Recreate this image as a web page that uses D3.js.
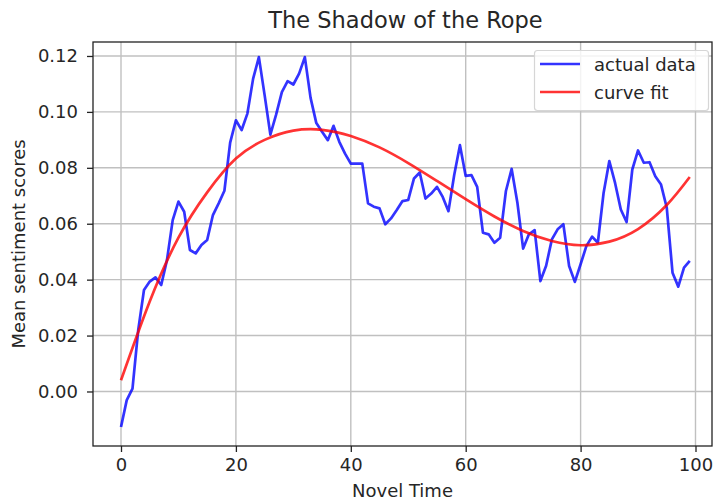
<!DOCTYPE html>
<html>
<head>
<meta charset="utf-8">
<script src="https://cdn.jsdelivr.net/npm/d3@7"></script>
<style>
  html, body { margin: 0; padding: 0; background: #fff; }
  svg { display: block; font-family: "DejaVu Sans", sans-serif; }
</style>
</head>
<body>
<svg id="chart" width="714" height="504"></svg>
<script>
// Mean sentiment per slice of the novel (slices 0..99)
const sentiment = [
  -0.0127, -0.0031, 0.0010, 0.0220, 0.0363, 0.0393, 0.0408, 0.0381, 0.0470, 0.0613,
  0.0679, 0.0643, 0.0506, 0.0494, 0.0524, 0.0542, 0.0631, 0.0673, 0.0718, 0.0890,
  0.0970, 0.0935, 0.0994, 0.1119, 0.1196, 0.1060, 0.0919, 0.0990, 0.1071, 0.1110,
  0.1098, 0.1137, 0.1196, 0.1050, 0.0960, 0.0929, 0.0899, 0.0950, 0.0893, 0.0851,
  0.0815, 0.0815, 0.0815, 0.0673, 0.0661, 0.0655, 0.0598, 0.0619, 0.0649, 0.0681,
  0.0685, 0.0762, 0.0783, 0.0690, 0.0708, 0.0732, 0.0696, 0.0645, 0.0774, 0.0881,
  0.0771, 0.0774, 0.0732, 0.0568, 0.0562, 0.0532, 0.0550, 0.0717, 0.0796, 0.0675,
  0.0511, 0.0562, 0.0577, 0.0395, 0.0450, 0.0544, 0.0580, 0.0598, 0.0449, 0.0392,
  0.0455, 0.0520, 0.0554, 0.0532, 0.0710, 0.0824, 0.0746, 0.0651, 0.0606, 0.0794,
  0.0862, 0.0818, 0.0820, 0.0770, 0.0740, 0.0657, 0.0425, 0.0375, 0.0443, 0.0467
];

// Smooth fitted trend, sampled along novel time
const fitTime   = [0, 5, 10, 15, 20, 25, 30, 35, 40, 45, 50, 55, 60, 65, 70, 75, 80, 85, 90, 95, 99];
const fitValues = [0.0040, 0.0322, 0.0550, 0.0712, 0.0833, 0.0900, 0.0933, 0.0936, 0.0914, 0.0873,
                   0.0817, 0.0753, 0.0688, 0.0626, 0.0574, 0.0538, 0.0523, 0.0536, 0.0581, 0.0667, 0.0767];

const xTicks = [0, 20, 40, 60, 80, 100];
const yTicks = [0.00, 0.02, 0.04, 0.06, 0.08, 0.10, 0.12];

const titleText = "The Shadow of the Rope";
const xLabel = "Novel Time";
const yLabel = "Mean sentiment scores";
const seriesNames = ["actual data", "curve fit"];
const seriesColors = ["#0000ff", "#ff0000"];

// Plot frame
const frame = { left: 93, right: 712, top: 42, bottom: 446 };

const svg = d3.select("#chart");

const x = d3.scaleLinear().domain([0, 100]).range([121, 695.5]);
const y = d3.scaleLinear().domain([-0.0195, 0.125]).range([frame.bottom, frame.top]);

// Grid
const grid = svg.append("g").attr("stroke", "#c0c0c0").attr("stroke-width", 1.4);
grid.selectAll("line.gx").data(xTicks).join("line")
  .attr("x1", d => x(d)).attr("x2", d => x(d))
  .attr("y1", frame.top).attr("y2", frame.bottom);
grid.selectAll("line.gy").data(yTicks).join("line")
  .attr("x1", frame.left).attr("x2", frame.right)
  .attr("y1", d => y(d)).attr("y2", d => y(d));

// Clip to plot area
svg.append("clipPath").attr("id", "plotClip").append("rect")
  .attr("x", frame.left).attr("y", frame.top)
  .attr("width", frame.right - frame.left).attr("height", frame.bottom - frame.top);

const plot = svg.append("g").attr("clip-path", "url(#plotClip)");

const dataLine = d3.line()
  .x((d, i) => x(i))
  .y(d => y(d));

plot.append("path")
  .datum(sentiment)
  .attr("fill", "none")
  .attr("stroke", seriesColors[0])
  .attr("stroke-opacity", 0.8)
  .attr("stroke-width", 2.7)
  .attr("stroke-linejoin", "round")
  .attr("d", dataLine);

const fitLine = d3.line()
  .x((d, i) => x(fitTime[i]))
  .y(d => y(d))
  .curve(d3.curveNatural);

plot.append("path")
  .datum(fitValues)
  .attr("fill", "none")
  .attr("stroke", seriesColors[1])
  .attr("stroke-opacity", 0.8)
  .attr("stroke-width", 2.7)
  .attr("d", fitLine);

// Axes
const fontSize = 18;
const xAxis = svg.append("g")
  .attr("transform", `translate(0,${frame.bottom})`)
  .call(d3.axisBottom(x).tickValues(xTicks).tickFormat(d3.format("d")).tickSize(6).tickPadding(6));
const yAxis = svg.append("g")
  .attr("transform", `translate(${frame.left},0)`)
  .call(d3.axisLeft(y).tickValues(yTicks).tickFormat(d3.format(".2f")).tickSize(6).tickPadding(9));

[xAxis, yAxis].forEach(ax => {
  ax.select(".domain").remove();
  ax.selectAll(".tick line").attr("stroke", "#222").attr("stroke-width", 1.3);
  ax.selectAll(".tick text")
    .attr("fill", "#262626")
    .style("font-family", "'DejaVu Sans', sans-serif")
    .style("font-size", fontSize + "px");
});

// Frame
svg.append("rect")
  .attr("x", frame.left).attr("y", frame.top)
  .attr("width", frame.right - frame.left).attr("height", frame.bottom - frame.top)
  .attr("fill", "none").attr("stroke", "#222").attr("stroke-width", 1.3);

// Title and axis labels
svg.append("text")
  .attr("x", (frame.left + frame.right) / 2 + 3).attr("y", 28)
  .attr("text-anchor", "middle")
  .attr("fill", "#262626")
  .style("font-size", "22.5px")
  .text(titleText);

svg.append("text")
  .attr("x", (frame.left + frame.right) / 2).attr("y", 497)
  .attr("text-anchor", "middle")
  .attr("fill", "#262626")
  .style("font-size", fontSize + "px")
  .text(xLabel);

svg.append("text")
  .attr("transform", `translate(24.5,${(frame.top + frame.bottom) / 2}) rotate(-90)`)
  .attr("text-anchor", "middle")
  .attr("fill", "#262626")
  .style("font-size", fontSize + "px")
  .text(yLabel);

// Legend
const legend = svg.append("g");
legend.append("rect")
  .attr("x", 534.5).attr("y", 50.5).attr("width", 174).attr("height", 60).attr("rx", 3)
  .attr("fill", "#fff").attr("fill-opacity", 0.8)
  .attr("stroke", "#d6d6d6").attr("stroke-width", 1.2);

const entries = legend.selectAll("g.entry").data(seriesNames).join("g")
  .attr("transform", (d, i) => `translate(0,${64 + i * 28})`);
entries.append("line")
  .attr("x1", 540).attr("x2", 580).attr("y1", 0).attr("y2", 0)
  .attr("stroke", (d, i) => seriesColors[i])
  .attr("stroke-opacity", 0.8)
  .attr("stroke-width", 2.7);
entries.append("text")
  .attr("x", 594).attr("y", 7.3)
  .attr("fill", "#262626")
  .style("font-size", fontSize + "px")
  .text(d => d);
</script>
</body>
</html>
